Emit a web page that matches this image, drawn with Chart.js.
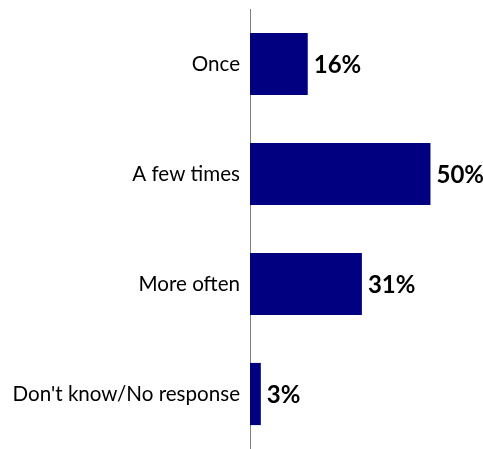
<!DOCTYPE html>
<html>
<head>
<meta charset="utf-8">
<script src="https://cdn.jsdelivr.net/npm/chart.js@4"></script>
<style>
  html, body { margin: 0; padding: 0; background: #fff; overflow: hidden; }
  canvas { display: block; }
</style>
</head>
<body>
<canvas id="chart" width="483" height="449"></canvas>
<script>
const categories = ["Once", "A few times", "More often", "Don't know/No response"];
const values = [16, 50, 31, 3];

// draws the bold % label just right of each bar
const valueLabels = {
    id: 'valueLabels',
    afterDatasetsDraw(chart) {
        const ctx = chart.ctx;
        const meta = chart.getDatasetMeta(0);
        ctx.save();
        ctx.font = 'bold 24px Lato';
        ctx.fillStyle = '#000';
        ctx.textAlign = 'left';
        ctx.textBaseline = 'middle';
        meta.data.forEach((bar, i) => {
            ctx.fillText(values[i] + '%', bar.x + 6, bar.y + 1);
        });
        ctx.restore();
    }
};

new Chart(document.getElementById('chart'), {
    type: 'bar',
    data: {
        labels: categories,
        datasets: [{
            data: values,
            backgroundColor: '#000080',
            categoryPercentage: 1,
            barPercentage: 0.565
        }]
    },
    options: {
        indexAxis: 'y',
        responsive: false,
        animation: false,
        layout: { padding: { top: 9, right: 2, bottom: 0, left: 0 } },
        scales: {
            x: { display: false, min: 0, max: 64 },
            y: {
                grid: { display: false },
                border: { display: true, color: '#808080', width: 1 },
                ticks: {
                    color: '#000',
                    padding: 2,
                    font: { family: 'Lato', size: 20.6 }
                },
                afterFit(scale) {
                    scale.width = 250;
                    scale.paddingTop = 0;
                    scale.paddingBottom = 0;
                }
            }
        },
        plugins: {
            legend: { display: false },
            tooltip: { enabled: false }
        }
    },
    plugins: [valueLabels]
});
</script>
</body>
</html>
